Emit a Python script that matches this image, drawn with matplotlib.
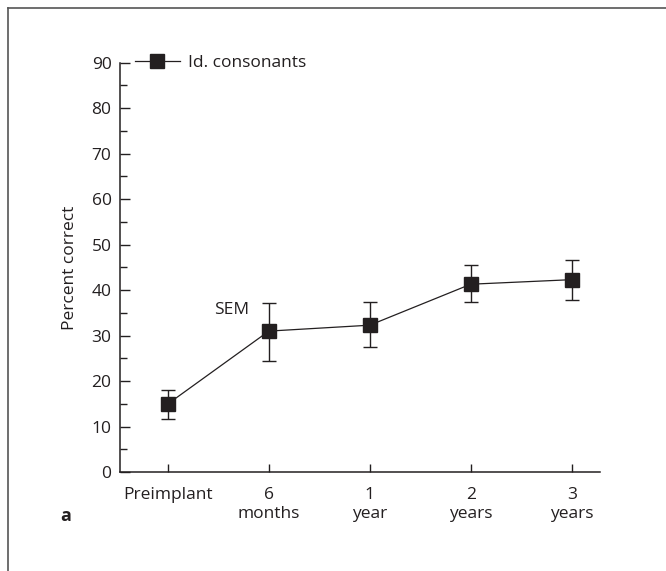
import matplotlib
matplotlib.use("Agg")
import matplotlib.pyplot as plt
from matplotlib.lines import Line2D
from matplotlib.ticker import MultipleLocator

plt.rcParams["font.family"] = ["Open Sans", "DejaVu Sans"]
INK = "#231f20"
FS = 12.5

# Identification of consonants over time after implantation (mean, SEM bounds)
timepoints = ["Preimplant", "6\nmonths", "1\nyear", "2\nyears", "3\nyears"]
mean_correct = [15.0, 31.0, 32.3, 41.3, 42.3]
sem_upper = [18.0, 37.2, 37.3, 45.6, 46.7]
sem_lower = [11.6, 24.4, 27.5, 37.5, 37.9]
series_label = "Id. consonants"

x = list(range(len(timepoints)))
err_lo = [m - lo for m, lo in zip(mean_correct, sem_lower)]
err_hi = [hi - m for m, hi in zip(mean_correct, sem_upper)]

fig = plt.figure(figsize=(6.66, 5.71), dpi=100)
ax = fig.add_axes([0.180, 0.173, 0.721, 0.7175])

ax.errorbar(x, mean_correct, yerr=[err_lo, err_hi], fmt="none",
            ecolor=INK, elinewidth=1.0, capsize=5, capthick=1.0, zorder=2)
ax.plot(x, mean_correct, color=INK, linewidth=0.9, marker="s",
        markersize=10, markerfacecolor=INK, markeredgecolor=INK,
        label=series_label, zorder=3)

ax.set_xlim(-0.475, 4.28)
ax.set_ylim(0, 90)
ax.set_xticks(x)
ax.set_xticklabels(timepoints, fontsize=FS, color=INK, linespacing=1.2,
                   va="top")
ax.yaxis.set_major_locator(MultipleLocator(10))
ax.yaxis.set_minor_locator(MultipleLocator(5))
ax.tick_params(axis="y", which="major", direction="in", length=7, width=1,
               labelsize=FS, labelcolor=INK, color=INK, pad=6)
ax.tick_params(axis="y", which="minor", direction="in", length=5, width=1,
               color=INK)
ax.tick_params(axis="x", direction="in", length=6, width=1, color=INK,
               pad=11)

for side in ("top", "right"):
    ax.spines[side].set_visible(False)
for side in ("left", "bottom"):
    ax.spines[side].set_color(INK)
    ax.spines[side].set_linewidth(1.1)

ax.set_ylabel("Percent correct", fontsize=FS, color=INK, labelpad=10)

ax.text(0.81, 35.6, "SEM", ha="right", va="center", fontsize=FS, color=INK)

ax.legend(loc="center left", bbox_to_anchor=(0.031, 1.0), frameon=False,
          borderpad=0, borderaxespad=0, handlelength=2.6, handletextpad=0.45,
          fontsize=FS, labelcolor=INK)

fig.text(60 / 666, 1 - 516 / 571, "a", fontsize=13, fontweight="bold",
         color=INK, ha="left", va="center")

# panel frame (top and left edges)
fig.add_artist(Line2D([8 / 666, 1.0], [1 - 8 / 571, 1 - 8 / 571],
                      transform=fig.transFigure, color="#555555", linewidth=1.2))
fig.add_artist(Line2D([8 / 666, 8 / 666], [0.0, 1 - 8 / 571],
                      transform=fig.transFigure, color="#555555", linewidth=1.2))

fig.savefig("out.png", dpi=100)
